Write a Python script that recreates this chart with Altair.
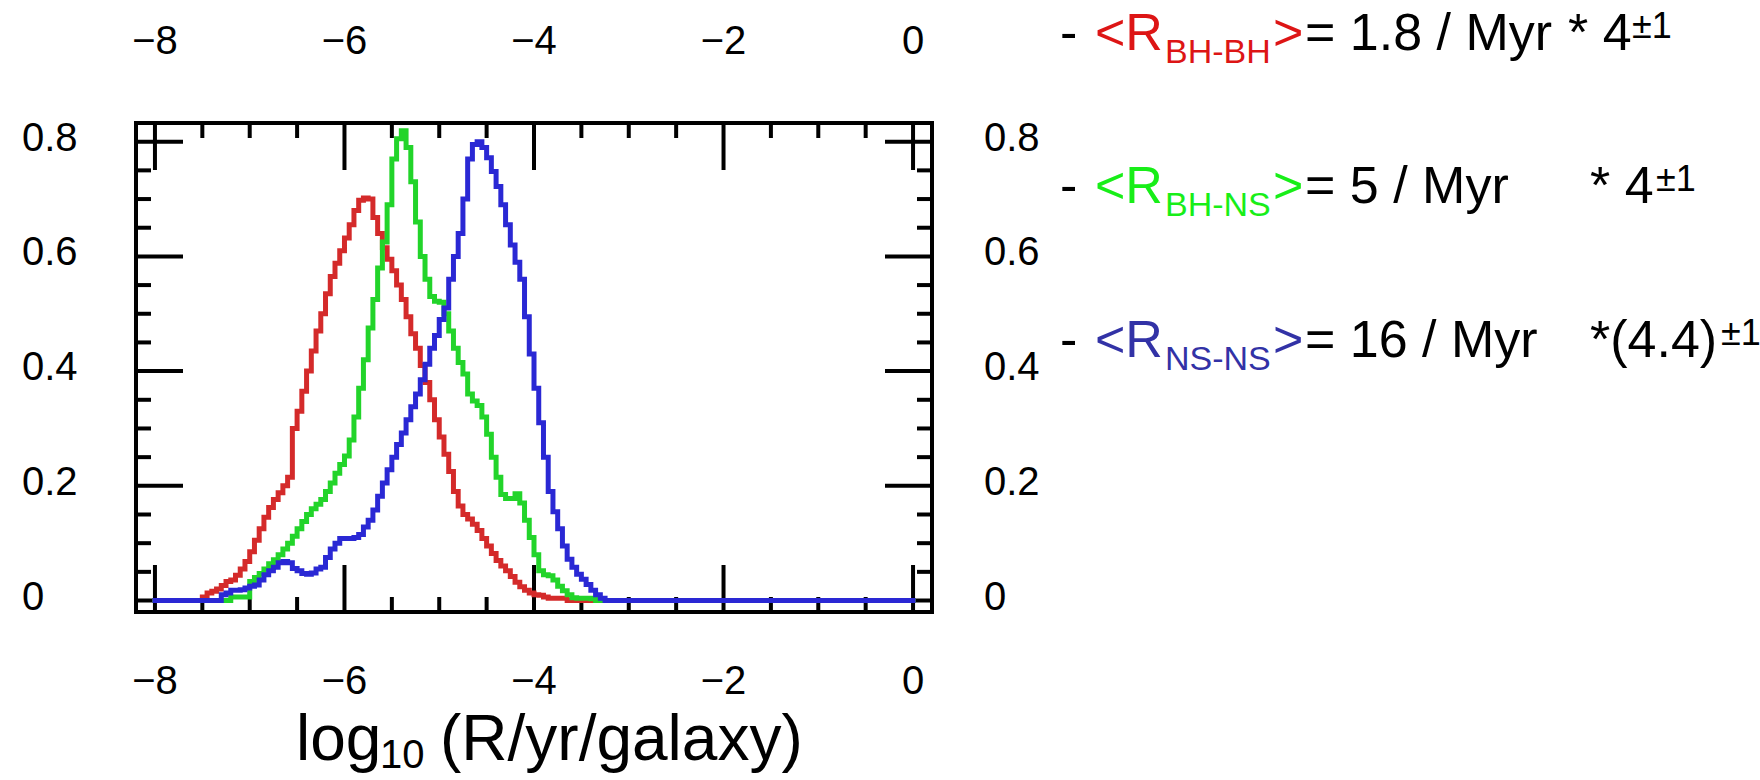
import altair as alt
import pandas as pd

# ---------------- data ----------------
BIN = 0.05
X_MIN, X_MAX = -8.0, 0.0

red_start = -7.50
red_vals = [0.006, 0.013, 0.016, 0.020, 0.026, 0.033, 0.036, 0.044, 0.055, 0.068,
            0.085, 0.105, 0.125, 0.145, 0.162, 0.176, 0.188, 0.200, 0.215, 0.300,
            0.330, 0.365, 0.400, 0.435, 0.470, 0.500, 0.535, 0.565, 0.588, 0.610,
            0.632, 0.655, 0.680, 0.698, 0.702, 0.700, 0.668, 0.640, 0.615, 0.595,
            0.575, 0.550, 0.525, 0.495, 0.465, 0.440, 0.410, 0.380, 0.350, 0.315,
            0.285, 0.255, 0.225, 0.190, 0.165, 0.150, 0.142, 0.133, 0.122, 0.108,
            0.095, 0.082, 0.070, 0.060, 0.052, 0.042, 0.032, 0.024, 0.018, 0.013,
            0.010, 0.009, 0.006, 0.004, 0.004, 0.004, 0.004]

green_start = -7.20
green_vals = [0.006, 0.006, 0.006, 0.006, 0.033, 0.040, 0.047, 0.055, 0.064, 0.071,
              0.080, 0.090, 0.100, 0.112, 0.125, 0.138, 0.150, 0.160, 0.168, 0.176,
              0.190, 0.205, 0.222, 0.237, 0.252, 0.280, 0.320, 0.370, 0.420, 0.475,
              0.525, 0.580, 0.625, 0.690, 0.770, 0.805, 0.819, 0.790, 0.730, 0.660,
              0.600, 0.560, 0.530, 0.522, 0.520, 0.500, 0.470, 0.440, 0.415, 0.395,
              0.360, 0.348, 0.340, 0.320, 0.290, 0.250, 0.215, 0.185, 0.178, 0.178,
              0.186, 0.170, 0.140, 0.110, 0.080, 0.052, 0.045, 0.043, 0.036, 0.025,
              0.017, 0.010, 0.005, 0.004, 0.004, 0.004, 0.003]

blue_start = -7.30
blue_vals = [0.010, 0.013, 0.018, 0.018, 0.019, 0.022, 0.025, 0.027, 0.036, 0.045,
             0.052, 0.058, 0.066, 0.068, 0.066, 0.056, 0.052, 0.047, 0.046, 0.048,
             0.055, 0.058, 0.075, 0.090, 0.100, 0.108, 0.108, 0.108, 0.110, 0.115,
             0.128, 0.140, 0.158, 0.182, 0.205, 0.228, 0.250, 0.272, 0.292, 0.315,
             0.338, 0.360, 0.385, 0.412, 0.440, 0.462, 0.490, 0.510, 0.560, 0.600,
             0.640, 0.700, 0.770, 0.795, 0.800, 0.790, 0.772, 0.748, 0.722, 0.690,
             0.655, 0.620, 0.590, 0.560, 0.495, 0.430, 0.370, 0.310, 0.250, 0.190,
             0.155, 0.125, 0.095, 0.072, 0.058, 0.046, 0.037, 0.028, 0.018, 0.010,
             0.004]

x_major = [-8, -6, -4, -2, 0]
x_major_labels = ["\u22128", "\u22126", "\u22124", "\u22122", "0"]
x_minor = [-7.5, -7, -6.5, -5.5, -5, -4.5, -3.5, -3, -2.5, -1.5, -1, -0.5]
y_major = [0, 0.2, 0.4, 0.6, 0.8]
y_major_labels = ["0", "0.2", "0.4", "0.6", "0.8"]
y_minor = [0.05, 0.1, 0.15, 0.25, 0.3, 0.35, 0.45, 0.5, 0.55, 0.65, 0.7, 0.75]

legend_names = ["BH-BH", "BH-NS", "NS-NS"]
legend_rates = ["= 1.8 / Myr", "= 5 / Myr", "= 16 / Myr"]
legend_factor = ["* 4", "* 4", "*(4.4)"]
legend_exp = ["\u00b11", "\u00b11", "\u00b11"]
x_title_parts = ["log", "10", "(R/yr/galaxy)"]

# ---------------- styling / layout ----------------
W, H = 796, 489
PAD_L, PAD_T = 136, 123
CURVE_COLORS = ["#d42a2a", "#22d42a", "#2a28d4"]
TEXT_COLORS = ["#dd1515", "#18ee18", "#3232a6"]
TICK_FONT = "Liberation Sans"
TEXT_FONT = "Liberation Sans"

xs = alt.Scale(domain=[-8.2, 0.2], nice=False, zero=False)
ys = alt.Scale(domain=[-0.02, 0.8326], nice=False, zero=False)


def series_df(start, vals):
    xv = [X_MIN] + [round(start + BIN * i, 4) for i in range(len(vals))]
    xv += [round(start + BIN * len(vals), 4), X_MAX]
    yv = [0.0] + list(vals) + [0.0, 0.0]
    return pd.DataFrame({"x": xv, "y": yv})


layers = []


def xticks(vals, length, top):
    df = pd.DataFrame({"v": vals})
    y1, y2 = (0, length) if top else (H, H - length)
    return alt.Chart(df).mark_rule(color="black", strokeWidth=4).encode(
        x=alt.X("v:Q", scale=xs, axis=None), y=alt.value(y1), y2=alt.value(y2))


def yticks(vals, length, left):
    df = pd.DataFrame({"v": vals})
    x1, x2 = (0, length) if left else (W, W - length)
    return alt.Chart(df).mark_rule(color="black", strokeWidth=4).encode(
        y=alt.Y("v:Q", scale=ys, axis=None), x=alt.value(x1), x2=alt.value(x2))


for top in (True, False):
    layers.append(xticks(x_major, 47, top))
    layers.append(xticks(x_minor, 15, top))
for left in (True, False):
    layers.append(yticks(y_major, 47, left))
    layers.append(yticks(y_minor, 15, left))

# curves: red, green, blue (blue on top)
for (start, vals), col in zip([(red_start, red_vals), (green_start, green_vals),
                               (blue_start, blue_vals)], CURVE_COLORS):
    layers.append(
        alt.Chart(series_df(start, vals)).mark_line(
            interpolate="step-after", strokeWidth=5, color=col,
            strokeCap="square", strokeJoin="miter").encode(
            x=alt.X("x:Q", scale=xs, axis=None),
            y=alt.Y("y:Q", scale=ys, axis=None)))

# tick labels
xl = pd.DataFrame({"v": x_major, "t": x_major_labels})
for ypix in (-81, 559):
    layers.append(alt.Chart(xl).mark_text(font=TICK_FONT, fontSize=40, align="center",
                                          baseline="middle", color="black").encode(
        x=alt.X("v:Q", scale=xs, axis=None), y=alt.value(ypix), text="t:N"))
yl = pd.DataFrame({"v": y_major, "t": y_major_labels})
for xpix in (-114, 848):
    layers.append(alt.Chart(yl).mark_text(font=TICK_FONT, fontSize=40, align="left",
                                          baseline="middle", dy=-3, color="black").encode(
        y=alt.Y("v:Q", scale=ys, axis=None), x=alt.value(xpix), text="t:N"))


def txt(s, x, y, size, color, baseline="alphabetic"):
    return alt.Chart(pd.DataFrame({"t": [s]})).mark_text(
        font=TEXT_FONT, fontSize=size, align="left", baseline=baseline,
        color=color).encode(x=alt.value(x - PAD_L), y=alt.value(y - PAD_T), text="t:N")


# x-axis title
layers.append(txt(x_title_parts[0], 296, 760, 64, "black"))
layers.append(txt(x_title_parts[1], 380, 768, 40, "black"))
layers.append(txt(x_title_parts[2], 440, 760, 64, "black"))

# legend text on the right
baselines = [50, 203, 357]
factor_x = [1568, 1590, 1590]
exp_x = [1632, 1656, 1721]
for i in range(3):
    b = baselines[i]
    layers.append(txt("-", 1060, b, 52, "black"))
    layers.append(txt("<R", 1095, b, 52, TEXT_COLORS[i]))
    layers.append(txt(legend_names[i], 1165, b + 13, 34, TEXT_COLORS[i]))
    layers.append(txt(">", 1273, b, 52, TEXT_COLORS[i]))
    layers.append(txt(legend_rates[i], 1305, b, 52, "black"))
    layers.append(txt(legend_factor[i], factor_x[i], b, 52, "black"))
    layers.append(txt(legend_exp[i], exp_x[i], b - 12, 36, "black"))

chart = alt.layer(*layers).properties(
    width=W, height=H,
    padding={"left": PAD_L, "top": PAD_T, "right": 1760 - PAD_L - W, "bottom": 780 - PAD_T - H},
    autosize=alt.AutoSizeParams(type="none"),
    background="white",
).configure_view(stroke="black", strokeWidth=4)

chart.save("out.html", embed_options={"renderer": "svg", "actions": False})
